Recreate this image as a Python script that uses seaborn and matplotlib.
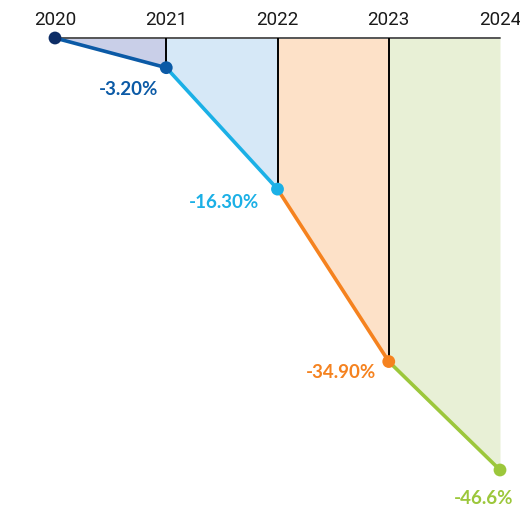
import matplotlib
matplotlib.use("Agg")
import matplotlib.pyplot as plt
import seaborn as sns
import pandas as pd

# Cumulative change by year
years = [2020, 2021, 2022, 2023, 2024]
values = [0.0, -3.2, -16.3, -34.9, -46.6]
value_labels = ["", "-3.20%", "-16.30%", "-34.90%", "-46.6%"]

# Per-segment styling (segment i runs from years[i] to years[i+1])
line_colors = ["#0b5aa6", "#1bb0e6", "#f5821f", "#9cc73b"]
fill_colors = ["#c9cfe8", "#d6e8f7", "#fde1c8", "#e8f0d6"]
marker_colors = ["#0d2d66", "#0b5aa6", "#1bb0e6", "#f5821f", "#9cc73b"]
label_offsets = [None, (-38, -21), (-53, -12), (-48, -10), (-16, -27)]

sns.set_theme(style="white")
plt.rcParams["font.family"] = ["Lato", "DejaVu Sans"]

fig = plt.figure(figsize=(5.2, 5.1), dpi=100)
W, H = 520, 510
ax = fig.add_axes([55 / W, 1 - 471 / H, (500 - 55) / W, (471 - 39) / H])

df = pd.DataFrame({"year": years, "value": values})

for i in range(len(years) - 1):
    seg = df.iloc[i:i + 2]
    ax.fill_between(seg["year"], 0, seg["value"], color=fill_colors[i],
                    linewidth=0, zorder=1)
    sns.lineplot(data=seg, x="year", y="value", color=line_colors[i],
                 linewidth=2.6, ax=ax, zorder=4, clip_on=False)

# Vertical separators from the baseline down to each inner point
for x, v in zip(years[1:-1], values[1:-1]):
    ax.plot([x, x], [0, v], color="black", linewidth=1.4, zorder=3)

# Baseline across the top
ax.plot([years[0], years[-1]], [0, 0], color="#555555", linewidth=1.4,
        zorder=2, clip_on=False)

sns.scatterplot(data=df, x="year", y="value", hue="year",
                palette=marker_colors, s=85, edgecolor="none",
                legend=False, ax=ax, zorder=5, clip_on=False)

for x, v, lab, off, c in zip(years, values, value_labels, label_offsets,
                             marker_colors):
    if not lab:
        continue
    ax.annotate(lab, (x, v), xytext=off, textcoords="offset pixels",
                ha="center", va="center", fontsize=13.5, fontweight="bold",
                color=c, annotation_clip=False)

# Year labels above the baseline
for x in years:
    ax.annotate(str(x), (x, 0), xytext=(0, 19), textcoords="offset pixels",
                ha="center", va="center", fontsize=13.5, fontweight=400,
                family=["Roboto", "DejaVu Sans"], color="#1a1a1a",
                annotation_clip=False)

ax.set_xlim(years[0], years[-1])
ax.set_ylim(min(values), 0)
ax.axis("off")

fig.savefig("out.png", dpi=100)
